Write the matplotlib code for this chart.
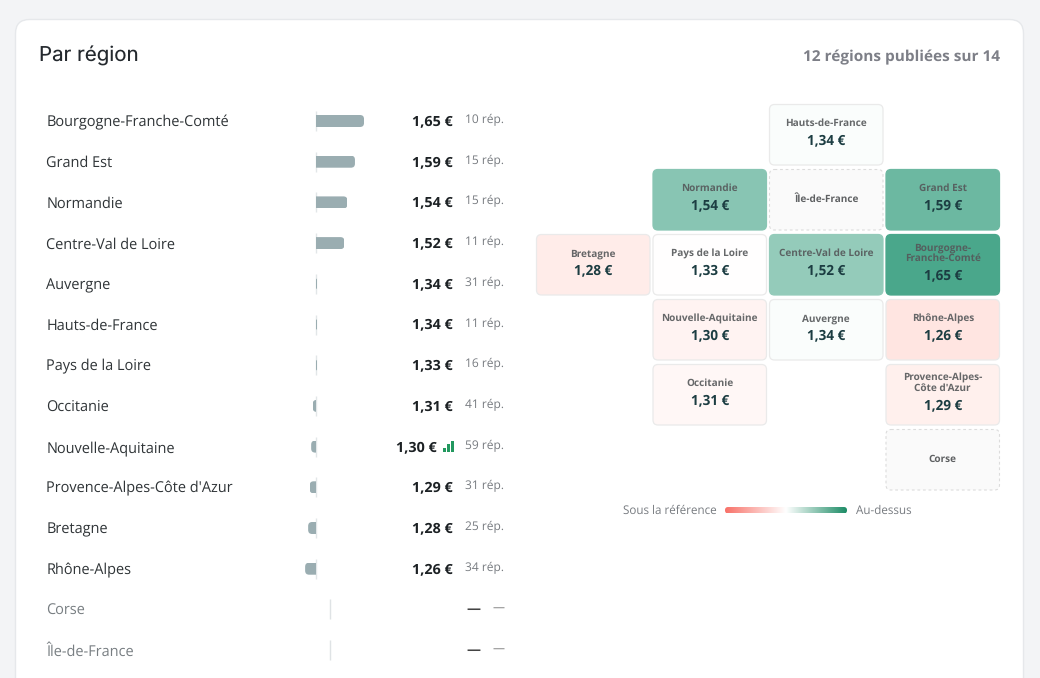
import numpy as np
import matplotlib
matplotlib.use('Agg')
import matplotlib.pyplot as plt
from matplotlib.colors import LinearSegmentedColormap, TwoSlopeNorm
from matplotlib.patches import FancyBboxPatch, Rectangle

plt.rcParams['text.hinting'] = 'no_hinting'
plt.rcParams['text.hinting_factor'] = 8

# Data
regions = ['Bourgogne-Franche-Comté', 'Grand Est', 'Normandie', 'Centre-Val de Loire', 'Auvergne',
           'Hauts-de-France', 'Pays de la Loire', 'Occitanie', 'Nouvelle-Aquitaine',
           "Provence-Alpes-Côte d'Azur", 'Bretagne', 'Rhône-Alpes', 'Corse', 'Île-de-France']
prices = [1.65, 1.59, 1.54, 1.52, 1.34, 1.34, 1.33, 1.31, 1.30, 1.29, 1.28, 1.26, None, None]
responses = [10, 15, 15, 11, 31, 11, 16, 41, 59, 31, 25, 34, None, None]
reference_price = 1.332

# column, row of each region in the tile map, same order as regions
tile_cols = [3, 3, 1, 2, 2, 2, 1, 1, 1, 3, 0, 3, 3, 2]
tile_rows = [2, 1, 1, 2, 3, 0, 2, 4, 3, 4, 2, 3, 5, 1]
tile_names = {'Bourgogne-Franche-Comté': 'Bourgogne-\nFranche-Comté',
              "Provence-Alpes-Côte d'Azur": "Provence-Alpes-\nCôte d'Azur"}

title = 'Par région'
subtitle = '12 régions publiées sur 14'
legend_low = 'Sous la référence'
legend_high = 'Au-dessus'

W, H = 1040, 678
FONT = 'Open Sans'
px = 0.72  # px to pt at dpi 100


def euro(v):
    return f'{v:.2f} €'.replace('.', ',')


fig = plt.figure(figsize=(W / 100, H / 100), dpi=100, facecolor='#f3f4f6')
ax = fig.add_axes([0, 0, 1, 1])
ax.set_xlim(0, W)
ax.set_ylim(H, 0)
ax.axis('off')

# Card
ax.add_patch(FancyBboxPatch((15.5, 19.5), 1008, 720, boxstyle='round,pad=0,rounding_size=14',
                            fc='white', ec='#e6e8eb', lw=1))
ax.text(39, 55.5, title, family='Inter', fontsize=20.5 * px, color='#24292e', va='center')
ax.text(1000, 57, subtitle, family=FONT, fontweight='bold', fontsize=15.45 * px, color='#7d7f87',
        ha='right', va='center')

# Row list on the left
row_top = 121
row_step = 40.7
for i, name in enumerate(regions):
    y = row_top + i * row_step
    missing = prices[i] is None
    ax.text(46.5, y + 1.5, name, family=FONT, fontsize=14.5 * px, va='center',
            color='#787e82' if missing else '#2f3437')
    if missing:
        ax.vlines(329.5, y - 10, y + 10, color='#dfe3e5', lw=1)
        ax.text(480, y, '—', family=FONT, fontweight='bold', fontsize=14 * px, color='#444444',
                ha='right', va='center')
        ax.text(504.5, y - 1.5, '—', family=FONT, fontsize=12 * px, color='#777777', ha='right', va='center')
        continue
    has_icon = responses[i] == max(r for r in responses if r is not None)
    ax.text(437 if has_icon else 453, y + 0.5, euro(prices[i]), family=FONT, fontweight='bold',
            fontsize=14.4 * px, color='#1c2124', ha='right', va='center')
    ax.text(504, y - 1, f'{responses[i]} rép.', family=FONT, fontsize=12 * px, color='#777b80',
            ha='right', va='center')
    if has_icon:
        # small signal icon next to the largest sample
        for k, h in enumerate([4, 7.5, 11]):
            ax.add_patch(Rectangle((443 + k * 4, y + 5 - h), 2.6, h, fc='#22985f', ec='none'))

# Diverging bars, on their own axes in euros
px_per_euro = 151
bar_left_px, bar_right_px = 296, 366
bar_base_px = 316
ax_bars = fig.add_axes([bar_left_px / W, 1 - (row_top + 13.5 * row_step) / H,
                        (bar_right_px - bar_left_px) / W, 14 * row_step / H])
ax_bars.set_xlim(reference_price - (bar_base_px - bar_left_px) / px_per_euro,
                 reference_price + (bar_right_px - bar_base_px) / px_per_euro)
ax_bars.set_ylim(13.5, -0.5)
ax_bars.axis('off')
bar_h = 12 / row_step
radius = 4 / px_per_euro
min_width = 1.5 / px_per_euro
for i, v in enumerate(prices):
    if v is None:
        continue
    ax_bars.vlines(reference_price, i - 10 / row_step, i + 10 / row_step, color='#e2e6e8', lw=1, zorder=1)
    width = v - reference_price
    if abs(width) < min_width:
        width = min_width  # hairline stays visible, as in the reference
    end = reference_price + width
    clip = ax_bars.barh(i, width, left=reference_price, height=bar_h, color='none', edgecolor='none')[0]
    extra = 8 / px_per_euro
    x0 = reference_price - extra if width > 0 else end
    x1 = end if width > 0 else reference_price + extra
    rounded = FancyBboxPatch((x0, i - bar_h / 2), x1 - x0, bar_h,
                             boxstyle=f'round,pad=0,rounding_size={radius}',
                             mutation_aspect=(1 / row_step) / (1 / px_per_euro),
                             fc='#9aadb1', ec='none', zorder=2)
    ax_bars.add_patch(rounded)
    rounded.set_clip_path(clip)

# Tile map
tile_cmap = LinearSegmentedColormap.from_list('tiles', ['#ffe5e1', '#ffffff', '#4aa78b'])
tile_norm = TwoSlopeNorm(vmin=1.26, vcenter=1.332, vmax=1.65)
tile_x0, tile_y0 = 536.5, 104.5
tile_w, tile_h = 113.5, 60.5
tile_dx, tile_dy = 116.5, 65
for name, c, r, v in zip(regions, tile_cols, tile_rows, prices):
    x = tile_x0 + c * tile_dx
    y = tile_y0 + r * tile_dy
    cx = x + tile_w / 2
    label = tile_names.get(name, name)
    if v is None:
        ax.add_patch(FancyBboxPatch((x, y), tile_w, tile_h, boxstyle='round,pad=0,rounding_size=5',
                                    fc='#fafafa', ec='#dcdcdc', lw=0.8, ls=(0, (2.5, 2.5))))
        ax.text(cx, y + tile_h / 2 - 0.5, label, family=FONT, fontweight='bold', fontsize=10 * px,
                color='#5f6163', ha='center', va='center')
        continue
    fc = tile_cmap(tile_norm(v))
    ec = '#eaeaea' if v < 1.4 else fc
    ax.add_patch(FancyBboxPatch((x, y), tile_w, tile_h, boxstyle='round,pad=0,rounding_size=5',
                                fc=fc, ec=ec, lw=0.9))
    if '\n' in label:
        for k, part in enumerate(label.split('\n')):
            ax.text(cx, y + 13.5 + k * 10.5, part, family=FONT, fontweight='bold', fontsize=10 * px,
                    color='#55585a', alpha=0.9, ha='center', va='center')
        value_y = y + 41
    else:
        ax.text(cx, y + 19.3, label, family=FONT, fontweight='bold', fontsize=10 * px,
                color='#55585a', alpha=0.9, ha='center', va='center')
        value_y = y + 36
    ax.text(cx, value_y, euro(v), family=FONT, fontweight='bold', fontsize=13.5 * px,
            color='#1c3d42', ha='center', va='center')

# Legend
ax.text(717, 510.5, legend_low, family=FONT, fontsize=11.6 * px, color='#777b80', ha='right', va='center')
ax.text(856, 510.5, legend_high, family=FONT, fontsize=11.6 * px, color='#777b80', ha='left', va='center')
legend_cmap = LinearSegmentedColormap.from_list('legend', ['#f87168', '#ffffff', '#1d8c66'])
grad = ax.imshow(np.linspace(0, 1, 256).reshape(1, -1), cmap=legend_cmap, extent=(725, 847, 513.5, 507),
                 aspect='auto', zorder=3)
pill = FancyBboxPatch((725, 507), 122, 6.5, boxstyle='round,pad=0,rounding_size=3.2', fc='none', ec='none',
                      transform=ax.transData)
ax.add_patch(pill)
grad.set_clip_path(pill)
ax.set_xlim(0, W)
ax.set_ylim(H, 0)

fig.savefig('out.png', dpi=100, facecolor=fig.get_facecolor())
